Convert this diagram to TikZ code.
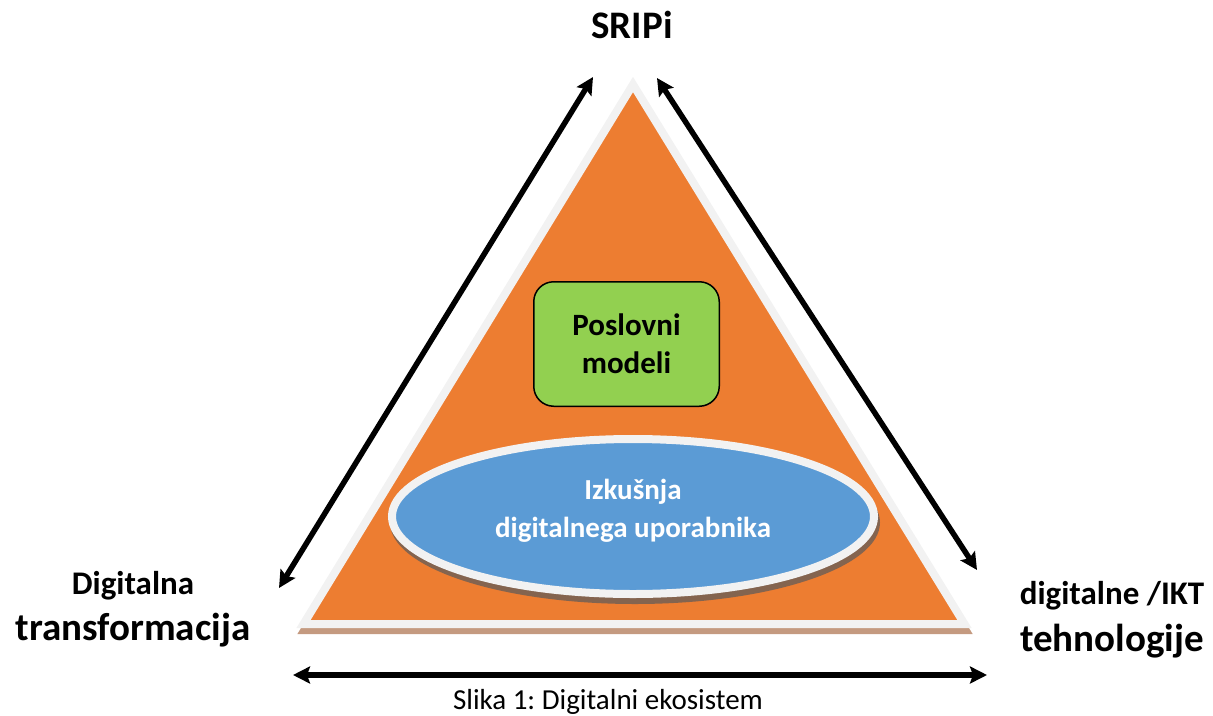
\documentclass[tikz,border=0pt]{standalone}
\usepackage{fontspec}
\setmainfont{Carlito}
\frenchspacing
\usetikzlibrary{arrows.meta,shapes.geometric}
\definecolor{triorange}{HTML}{ED7D31}
\definecolor{rim}{HTML}{F2F2F2}
\definecolor{tribrown}{HTML}{C49A80}
\definecolor{ellbrown}{HTML}{84644F}
\definecolor{ellblue}{HTML}{5B9BD5}
\definecolor{bizgreen}{HTML}{92D050}
\begin{document}
\begin{tikzpicture}[x=1pt,y=-1pt,line join=miter,>={Stealth[length=17pt,width=17pt,inset=3pt]}]
	\tikzset{lbl/.style={anchor=base,font=\bfseries\fontsize{33}{40}\selectfont},
		big/.style={anchor=base,font=\bfseries\fontsize{39}{47}\selectfont},
		dbl/.style={<->,line width=5.5pt}
	}
	\useasboundingbox (0,0) rectangle (1213,715);
	\draw[tribrown,fill=tribrown,line width=8pt,shift={(1,6)}] (633,84.5)--(303.5,624)--(964.5,624)--cycle;
	\draw[rim,fill=triorange,line width=8pt] (633,84.5)--(303.5,624)--(964.5,624)--cycle;
	\fill[ellbrown] (635,522.5) ellipse (245 and 81.5);
	\node[ellipse,draw=rim,fill=ellblue,line width=8pt,minimum width=482pt,minimum height=155pt] (ux) at (633,516.5) {};
	\node[white,align=center,font=\bfseries\fontsize{29}{38}\selectfont] (uxtext) at (633,511) {Izkušnja\\digitalnega uporabnika};
	\node[draw,fill=bizgreen,line width=1.5pt,rounded corners=20pt,minimum width=185.5pt,minimum height=124.5pt,align=center,font=\bfseries\fontsize{31}{38}\selectfont] (biz) at (626.5,344) {Poslovni\\modeli};
	\node[big] (sripi) at (632,38) {SRIPi};
	\node[lbl] (dig) at (133,594) {Digitalna};
	\node[big] (trans) at (133,640) {transformacija};
	\node[lbl] (ikt) at (1112,604) {digitalne /IKT};
	\node[big] (teh) at (1112,651) {tehnologije};
	\node[anchor=base,font=\fontsize{29}{35}\selectfont] (cap) at (608,709) {Slika 1: Digitalni ekosistem};
	\coordinate (lt) at (593,77); \coordinate (lb) at (279,588);
	\coordinate (rt) at (657,78); \coordinate (rb) at (977,570);
	\coordinate (bl) at (293,675); \coordinate (br) at (987,675);
	\draw[dbl] (lb)--(lt);
	\draw[dbl] (rt)--(rb);
	\draw[dbl] (bl)--(br);
\end{tikzpicture}
\end{document}
